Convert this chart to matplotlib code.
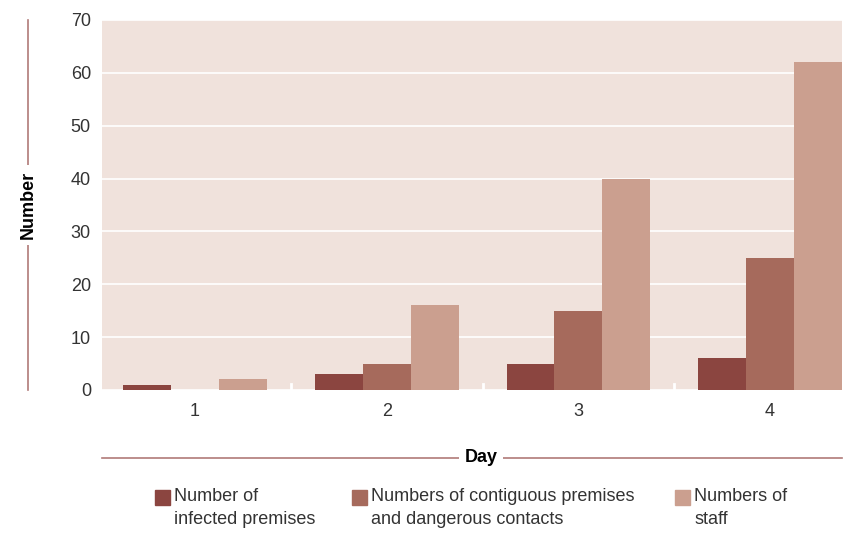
import matplotlib.pyplot as plt
from matplotlib.lines import Line2D
from matplotlib.patches import Rectangle
import numpy as np

days = ["1", "2", "3", "4"]
infected = [1, 3, 5, 6]
contiguous = [0, 5, 15, 25]
staff = [2, 16, 40, 62]
series_labels = [
    "Number of\ninfected premises",
    "Numbers of contiguous premises\nand dangerous contacts",
    "Numbers of\nstaff",
]
colors = ["#8b4540", "#a66a5c", "#cb9f8f"]

plt.rcParams["font.family"] = ["Liberation Sans", "DejaVu Sans"]

W, H = 846, 533
fig = plt.figure(figsize=(W / 100, H / 100), dpi=100)
ax = fig.add_axes([102 / W, 1 - 390 / H, 740 / W, 370 / H])
ax.set_facecolor("#f0e2dc")

x = np.arange(len(days))
width = 0.25
for i, (vals, c) in enumerate(zip([infected, contiguous, staff], colors)):
    ax.bar(x + (i - 1) * width, vals, width=width, color=c, zorder=3)

ax.set_ylim(0, 70)
ax.set_xlim(-0.485, 3.375)
ax.set_yticks(range(0, 71, 10))
ax.yaxis.grid(True, color="white", linewidth=1.2, zorder=1)
ax.set_axisbelow(True)
ax.set_xticks(x)
ax.set_xticklabels(days)
ax.tick_params(axis="both", length=0, labelsize=13, colors="#333333")
ax.tick_params(axis="x", pad=9)
ax.tick_params(axis="y", pad=8)
for s in ax.spines.values():
    s.set_visible(False)

# small white separators between day groups
for b in [0.5, 1.5, 2.5]:
    ax.plot([b, b], [0, 1.2], color="white", linewidth=2, zorder=4, clip_on=False)

line_c = "#b07a78"
# y axis title with line
fig.add_artist(Line2D([28 / W, 28 / W], [1 - 390 / H, 1 - 20 / H], color=line_c, lw=1.2))
fig.text(28 / W, 1 - 205 / H, "Number", rotation=90, ha="center", va="center",
         fontsize=13, fontweight="bold", color="black",
         bbox=dict(facecolor="white", edgecolor="none", pad=4))

# x axis title with line
fig.add_artist(Line2D([102 / W, 842 / W], [1 - 458 / H, 1 - 458 / H], color=line_c, lw=1.2))
fig.text(481 / W, 1 - 457 / H, "Day", ha="center", va="center",
         fontsize=13, fontweight="bold", color="black",
         bbox=dict(facecolor="white", edgecolor="none", pad=4))

# legend
leg_x = [155, 352, 675]
for lx, lab, c in zip(leg_x, series_labels, colors):
    fig.add_artist(Rectangle((lx / W, 1 - 505 / H), 15 / W, 15 / H, color=c,
                             transform=fig.transFigure))
    fig.text((lx + 19) / W, 1 - 488 / H, lab, ha="left", va="top",
             fontsize=13, color="#333333", linespacing=1.5)

fig.savefig("out.png", dpi=100)
